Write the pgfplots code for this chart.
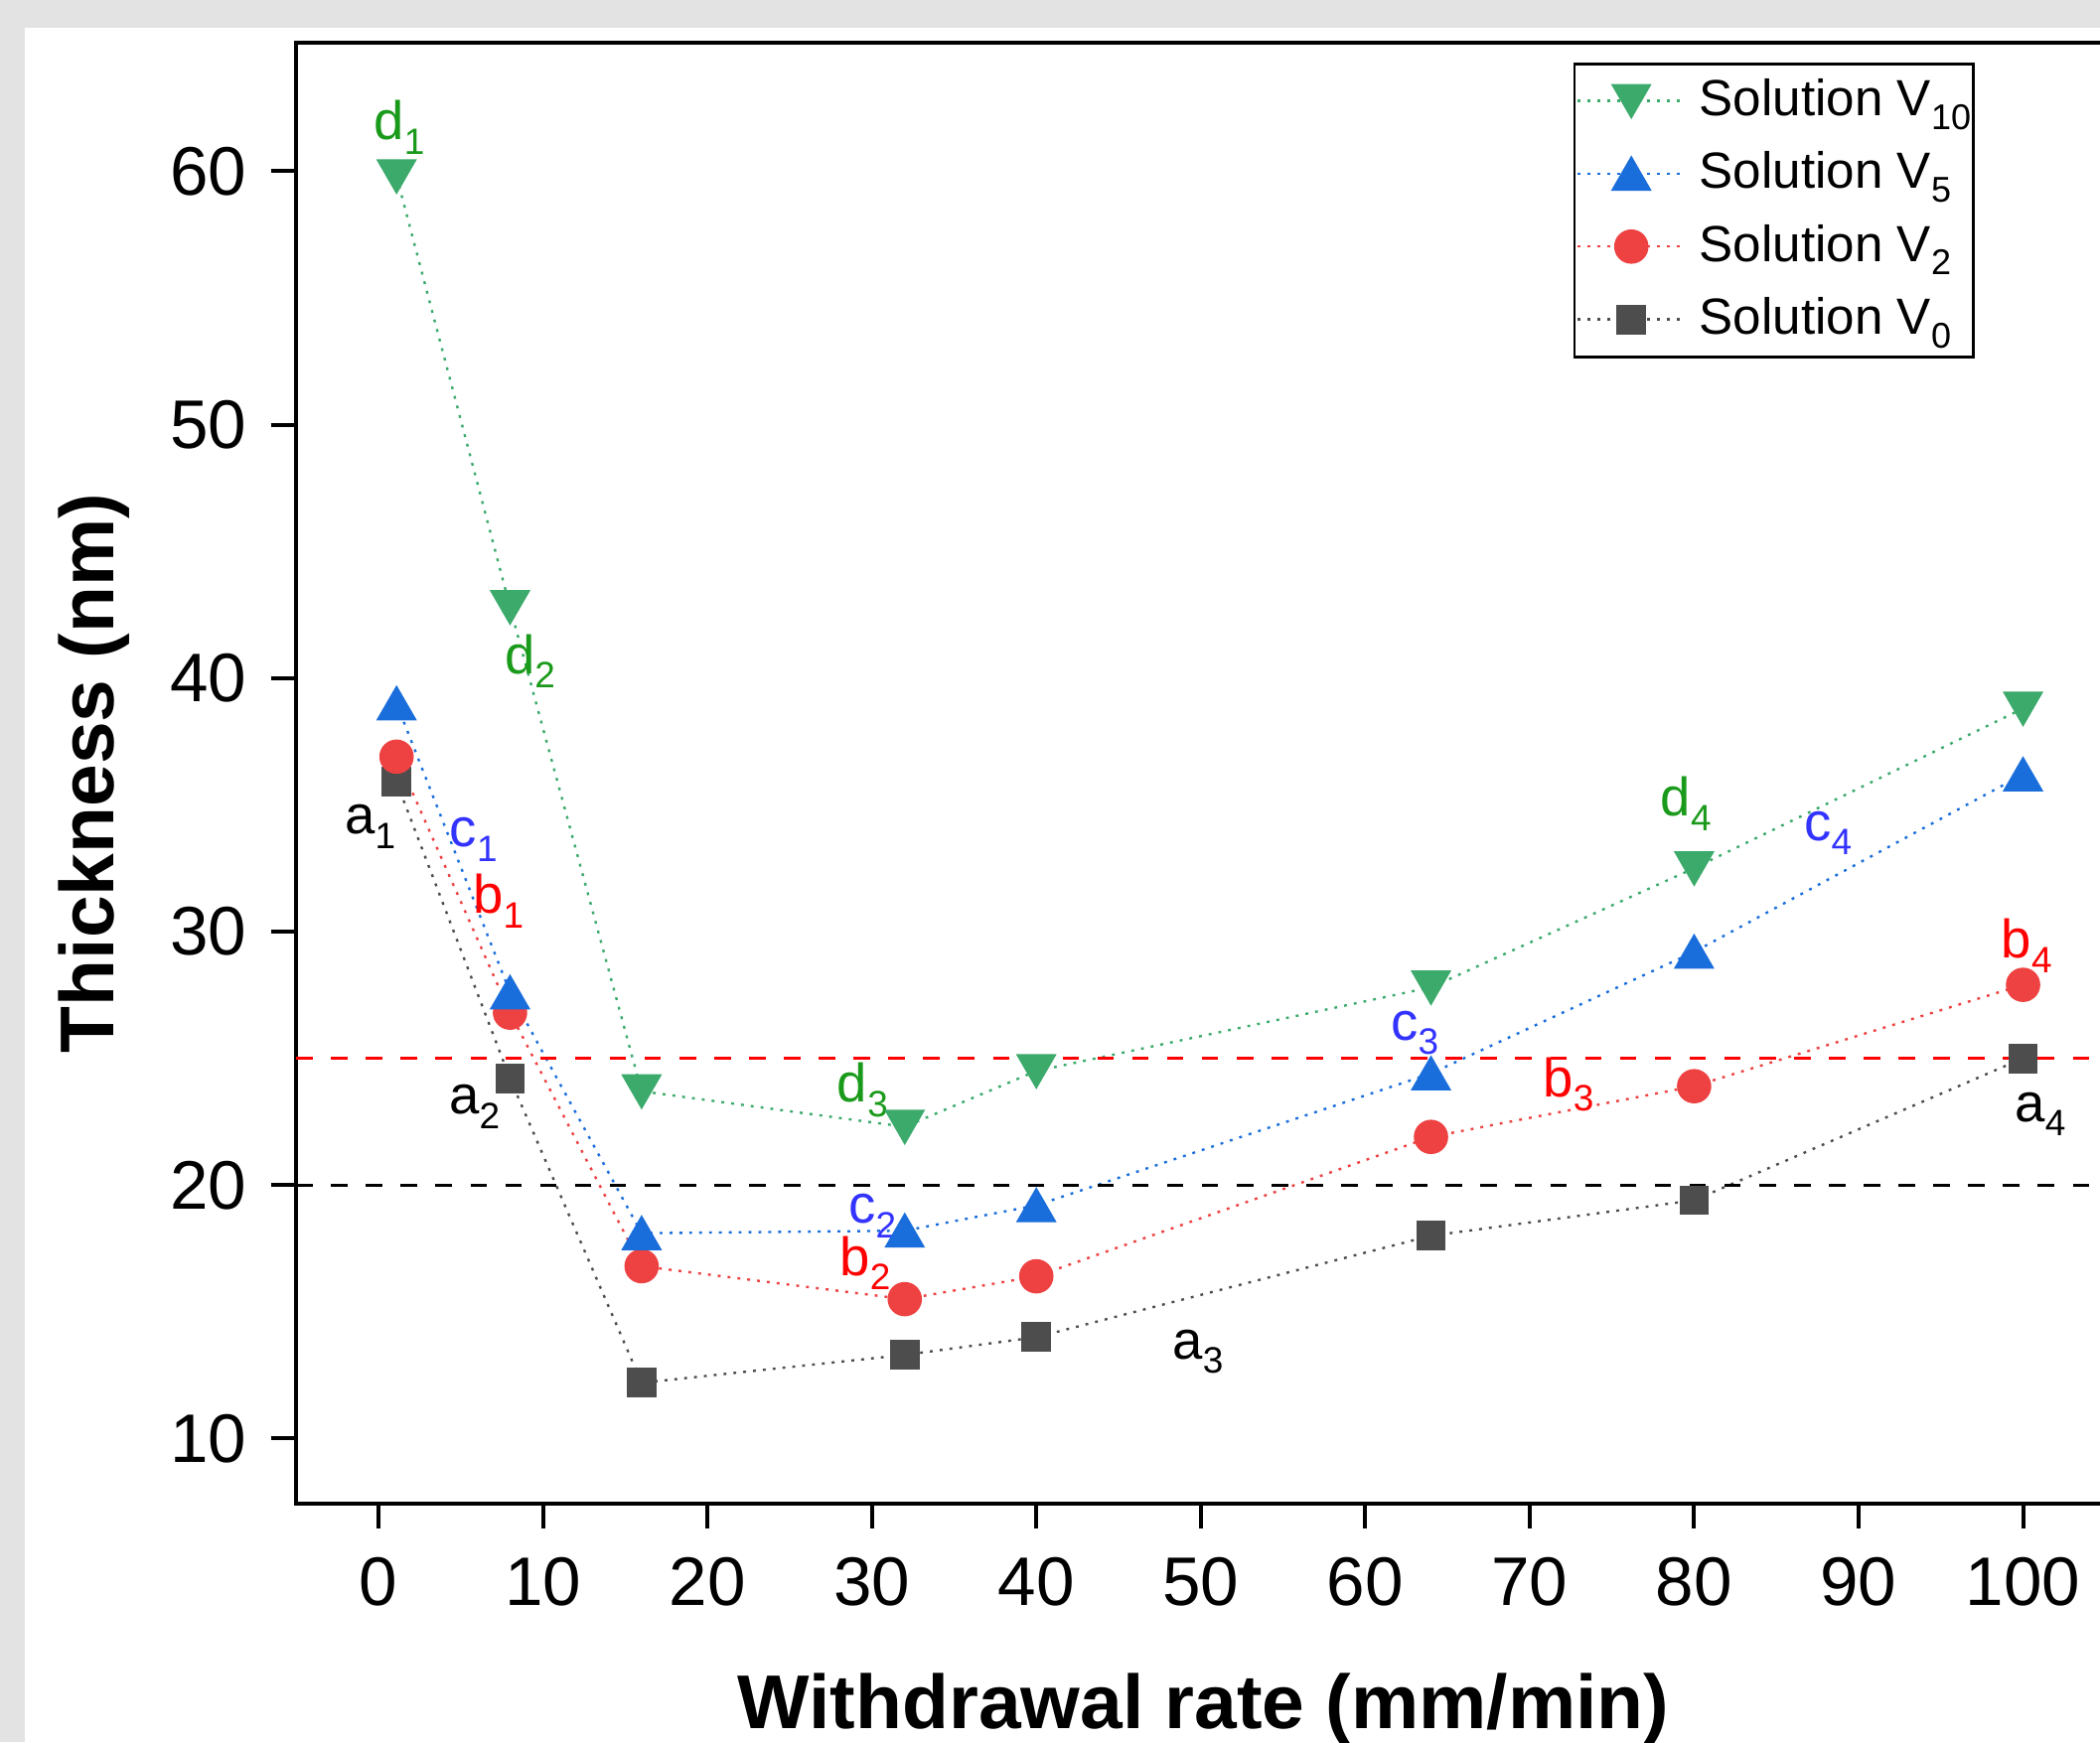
\documentclass[border=0pt]{standalone}
\usepackage{fontspec}
\setmainfont{Liberation Sans}
\usepackage{pgfplots}
\pgfplotsset{compat=1.18}

\definecolor{bggray}{HTML}{E3E3E3}
\definecolor{cgreen}{HTML}{3BAA6B}
\definecolor{cblue}{HTML}{1A6EDC}
\definecolor{cred}{HTML}{EE4242}
\definecolor{cgray}{HTML}{4D4D4D}
\definecolor{lgreen}{HTML}{1A9A1A}
\definecolor{lblue}{HTML}{3333FF}
\definecolor{lred}{HTML}{FF0000}

\newcommand{\afont}{\fontsize{11.5}{13}\selectfont}
\newcommand{\asub}[1]{\raisebox{-3.1pt}{\fontsize{7.8}{8}\selectfont #1}}
\newcommand{\lsub}[1]{\raisebox{-2.9pt}{\fontsize{7.6}{8}\selectfont #1}}

\begin{document}
\begin{tikzpicture}
% background panel
\fill[bggray] (-22.12mm,-17.84mm) rectangle (134.68mm,112.26mm);
\fill[white] (-20.3mm,-17.84mm) rectangle (134.68mm,110.16mm);

\begin{axis}[
    at={(0,0)}, anchor=south west,
    scale only axis,
    width=136.3mm, height=109.04mm,
    xmin=-5, xmax=106,
    ymin=7.45, ymax=65.05,
    xtick={0,10,...,100},
    ytick={10,20,...,60},
    xtick pos=bottom, ytick pos=left,
    tick align=outside,
    major tick length=1.9mm,
    axis line style={line width=0.85pt},
    every tick/.style={black, line width=0.85pt},
    tick label style={font=\fontsize{14.6}{17}\selectfont},
    xticklabel style={yshift=-0.9mm},
    yticklabel style={xshift=-0.55mm},
    /pgf/number format/assume math mode=true,
    xlabel={Withdrawal rate (mm/min)},
    ylabel={Thickness (nm)},
    label style={font=\fontsize{16.2}{19}\selectfont\bfseries},
    xlabel style={at={(axis description cs:0.497,-0.1543)}, anchor=base},
    ylabel style={at={(axis description cs:-0.1,0.5)}, anchor=base},
    reverse legend,
    legend cell align=left,
    legend image code/.code={
        \draw[#1, mark repeat=2, mark phase=2]
        plot coordinates {(0mm,1.1mm) (4mm,1.1mm) (8mm,1.1mm)};
    },
    legend style={
        at={(0.6995,0.9869)}, anchor=north west,
        draw=black, line width=0.6pt,
        inner xsep=0.15mm, inner ysep=0.53mm,
        row sep=0.94mm, column sep=1.0mm,
        font=\fontsize{10.8}{13}\selectfont,
        nodes={inner xsep=0pt, inner ysep=0pt, text height=3.35mm,
               text depth=1.15mm, anchor=base west},
    },
]

\addplot[cgray, line width=0.5pt, dash pattern=on 0.6pt off 1.5pt,
    mark=square*, mark size=2.9pt,
    mark options={solid, fill=cgray, draw=none}]
    coordinates {(1.1,35.9) (8,24.2) (16,12.2) (32,13.3) (40,14.0) (64,18.0) (80,19.4) (100,25.0)};
\addlegendentry{Solution V\lsub{0}}

\addplot[cred, line width=0.5pt, dash pattern=on 0.6pt off 1.5pt,
    mark=*, mark size=3.4pt,
    mark options={solid, fill=cred, draw=none}]
    coordinates {(1.1,36.9) (8,26.8) (16,16.8) (32,15.5) (40,16.4) (64,21.9) (80,23.9) (100,27.9)};
\addlegendentry{Solution V\lsub{2}}

\addplot[cblue, line width=0.5pt, dash pattern=on 0.6pt off 1.5pt,
    mark=triangle*, mark size=4.5pt,
    mark options={solid, fill=cblue, draw=none, yshift=-1.1pt}]
    coordinates {(1.1,39.0) (8,27.6) (16,18.1) (32,18.2) (40,19.2) (64,24.4) (80,29.2) (100,36.2)};
\addlegendentry{Solution V\lsub{5}}

\addplot[cgreen, line width=0.5pt, dash pattern=on 0.6pt off 1.5pt,
    mark=triangle*, mark size=4.5pt,
    mark options={solid, fill=cgreen, draw=none, yshift=1.1pt, rotate=180}]
    coordinates {(1.1,59.8) (8,42.8) (16,23.7) (32,22.3) (40,24.5) (64,27.8) (80,32.5) (100,38.8)};
\addlegendentry{Solution V\lsub{10}}

% reference thresholds
\addplot[lred, line width=0.7pt, dash pattern=on 3.5pt off 3.9pt, forget plot]
    coordinates {(-5,25) (106,25)};
\addplot[black, line width=0.7pt, dash pattern=on 3.5pt off 3.9pt, forget plot]
    coordinates {(-5,20) (106,20)};

% point labels
\begin{scope}[every node/.style={font=\afont, inner sep=0pt}]
\node[text=lgreen] at (axis cs:1.27,61.73) {d\asub{1}};
\node[text=lgreen] at (axis cs:9.21,40.67) {d\asub{2}};
\node[text=lgreen] at (axis cs:29.44,23.76) {d\asub{3}};
\node[text=lgreen] at (axis cs:79.5,35.05) {d\asub{4}};
\node[text=lblue] at (axis cs:5.78,33.64) {c\asub{1}};
\node[text=lblue] at (axis cs:30.04,18.79) {c\asub{2}};
\node[text=lblue] at (axis cs:63.01,26.0) {c\asub{3}};
\node[text=lblue] at (axis cs:88.14,33.88) {c\asub{4}};
\node[text=lred] at (axis cs:7.3,31.2) {b\asub{1}};
\node[text=lred] at (axis cs:29.6,16.92) {b\asub{2}};
\node[text=lred] at (axis cs:72.37,23.97) {b\asub{3}};
\node[text=lred] at (axis cs:100.22,29.43) {b\asub{4}};
\node[text=black] at (axis cs:-0.5,34.14) {a\asub{1}};
\node[text=black] at (axis cs:5.85,23.1) {a\asub{2}};
\node[text=black] at (axis cs:49.84,13.43) {a\asub{3}};
\node[text=black] at (axis cs:101.05,22.8) {a\asub{4}};
\end{scope}
\end{axis}

\pgfresetboundingbox
\useasboundingbox (-22.12mm,-17.84mm) rectangle (134.68mm,112.26mm);
\end{tikzpicture}
\end{document}
